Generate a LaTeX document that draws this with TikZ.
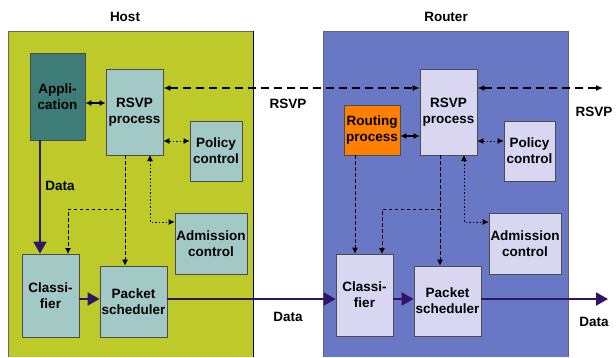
\documentclass[tikz,border=0pt]{standalone}
\usepackage{fontspec}
\setmainfont{Liberation Sans}
\usetikzlibrary{arrows.meta, positioning}

\definecolor{hostbg}{RGB}{190,202,42}
\definecolor{hostbox}{RGB}{163,201,198}
\definecolor{appbox}{RGB}{62,124,120}
\definecolor{routbg}{RGB}{104,120,196}
\definecolor{routbox}{RGB}{216,214,240}
\definecolor{routing}{RGB}{255,128,0}
\definecolor{datac}{RGB}{50,20,100}

\begin{document}
\begin{tikzpicture}[x=1pt, y=-1pt,
  font=\fontsize{13.5}{16}\selectfont\bfseries,
  blk/.style={draw=black!70, line width=0.8pt, align=center, inner sep=0pt},
  hbox/.style={blk, fill=hostbox},
  rbox/.style={blk, fill=routbox},
  sig/.style={line width=1.4pt, dash pattern=on 8pt off 5pt, {Latex[length=7pt,width=6pt]}-{Latex[length=7pt,width=6pt]}},
  duplex/.style={line width=1.2pt, {Latex[length=6pt,width=6pt]}-{Latex[length=6pt,width=6pt]}},
  ctl/.style={line width=0.8pt, dash pattern=on 3.5pt off 2.5pt, -{Latex[length=6pt,width=6pt]}},
  pol/.style={line width=0.8pt, dash pattern=on 1.5pt off 2pt, {Latex[length=6pt,width=6pt]}-{Latex[length=6pt,width=6pt]}},
  dat/.style={line width=2pt, datac, -{Triangle[length=12pt,width=13pt]}},
]
  \useasboundingbox (0,0) rectangle (616,357);

  % the two machines
  \fill[hostbg] (8,31) rectangle (253,357);
  \draw[black!60, line width=0.8pt] (8,357) -- (8,31) -- (253,31);
  \draw[black, line width=0.8pt] (253,31) -- (253,357);
  \fill[routbg] (323,31) rectangle (568,357);
  \draw[black!60, line width=0.8pt] (323,357) -- (323,31) -- (568,31) -- (568,357);
  \node (host)   at (125,17) {Host};
  \node (router) at (446,17) {Router};

  % host blocks
  \node[blk, fill=appbox, minimum width=55, minimum height=87] (app) at (57.5,96.5) {Appli-\\cation};
  \node[hbox, minimum width=57, minimum height=86] (hrsvp) at (134.5,112) {RSVP\\process};
  \node[hbox, minimum width=52, minimum height=60] (hpol)  at (216,151) {Policy\\control};
  \node[hbox, minimum width=72, minimum height=61] (hadm)  at (211,243.5) {Admission\\control};
  \node[hbox, minimum width=57, minimum height=83] (hcls)  at (50.5,295.5) {Classi-\\fier};
  \node[hbox, minimum width=67, minimum height=71] (hsch)  at (133.5,301.5) {Packet\\scheduler};

  % router blocks
  \node[rbox, minimum width=57, minimum height=86] (rrsvp) at (448.5,112) {RSVP\\process};
  \node[blk, fill=routing, minimum width=56, minimum height=50] (rrout) at (372,130) {Routing\\process};
  \node[rbox, minimum width=51, minimum height=60] (rpol)  at (529.5,151) {Policy\\control};
  \node[rbox, minimum width=72, minimum height=61] (radm)  at (525,243.5) {Admission\\control};
  \node[rbox, minimum width=57, minimum height=82] (rcls)  at (364.5,295) {Classi-\\fier};
  \node[rbox, minimum width=67, minimum height=70] (rsch)  at (447.5,301) {Packet\\scheduler};

  % levels and drop points
  \coordinate (sigY)  at (0,88);
  \coordinate (appY)  at (0,103);
  \coordinate (rtY)   at (0,136);
  \coordinate (polY)  at (0,141);
  \coordinate (splY)  at (0,209);
  \coordinate (admY)  at (0,222);
  \coordinate (datY)  at (0,299);
  \coordinate (hd)  at (125,155);
  \coordinate (hp)  at (150,155);
  \coordinate (hc)  at (68,254);
  \coordinate (ad)  at (40,140);
  \coordinate (rd)  at (440,155);
  \coordinate (rp)  at (464,155);
  \coordinate (rc)  at (382,254);
  \coordinate (rr)  at (355,155);
  \coordinate (sigend) at (603,88);
  \coordinate (datend) at (608,299);

  % RSVP messages
  \draw[sig] (hrsvp.east |- sigY) -- (rrsvp.west |- sigY);
  \draw[sig] (rrsvp.east |- sigY) -- (sigend);
  \node (rsvp1) at (288,104) {RSVP};
  \node (rsvp2) at (594,112) {RSVP};

  % host control
  \draw[duplex] (app.east |- appY) -- (hrsvp.west |- appY);
  \draw[pol] (hrsvp.east |- polY) -- (hpol.west |- polY);
  \draw[ctl] (hd) -- (hd |- hsch.north);
  \draw[ctl] (hd |- splY) -| (hc);
  \draw[pol] (hp) |- (hadm.west |- admY);

  % router control
  \draw[duplex] (rrout.east |- rtY) -- (rrsvp.west |- rtY);
  \draw[pol] (rrsvp.east |- polY) -- (rpol.west |- polY);
  \draw[ctl] (rd) -- (rd |- rsch.north);
  \draw[ctl] (rd |- splY) -| (rc);
  \draw[ctl] (rr) -- (rr |- rcls.north);
  \draw[pol] (rp) |- (radm.west |- admY);

  % data path
  \draw[dat] (ad) -- (ad |- hcls.north);
  \node (data1) at (60,186) {Data};
  \draw[dat] (hcls.east |- datY) -- (hsch.west |- datY);
  \draw[dat] (hsch.east |- datY) -- (rcls.west |- datY);
  \node (data2) at (288,317) {Data};
  \draw[dat] (rcls.east |- datY) -- (rsch.west |- datY);
  \draw[dat] (rsch.east |- datY) -- (datend);
  \node (data3) at (594,322) {Data};
\end{tikzpicture}
\end{document}
